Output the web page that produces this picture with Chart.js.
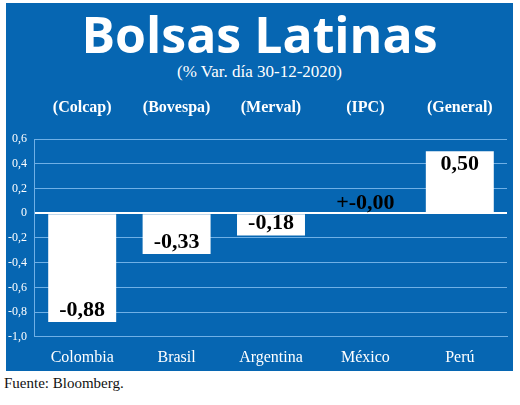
<!DOCTYPE html><html><head><meta charset="utf-8">
<script src="https://cdn.jsdelivr.net/npm/chart.js@4"></script>
<style>
body{margin:0;background:#fff;width:520px;height:405px;position:relative;overflow:hidden}
#panel{position:absolute;left:6px;top:3px;width:507px;height:368px;background:#0666b2}
#t{position:absolute;left:6px;width:507px;top:6px;text-align:center;color:#fff;font:bold 50px "Liberation Sans Narrow","Open Sans";line-height:56px}
#s{position:absolute;left:6px;width:507px;top:62px;text-align:center;color:#fff;font:17px "Liberation Sans Narrow";}
#f{position:absolute;left:4px;top:375px;color:#111;font:15px "Liberation Sans Narrow"}
#c{position:absolute;left:0;top:90px}
</style></head><body>
<div id="panel"></div><div id="t">Bolsas Latinas</div><div id="s">(% Var. día 30-12-2020)</div>
<div id="f">Fuente: Bloomberg.</div>
<div id="c" style="width:515px;height:280px"><canvas id="cv"></canvas></div>
<script>
const categories=["Colombia","Brasil","Argentina","México","Perú"];
const indices=["(Colcap)","(Bovespa)","(Merval)","(IPC)","(General)"];
const values=[-0.88,-0.33,-0.18,0.0,0.50];
const valueLabels=["-0,88","-0,33","-0,18","+-0,00","0,50"];
const ticks=[0.6,0.4,0.2,0,-0.2,-0.4,-0.6,-0.8,-1.0];
const lab={id:'lab',afterDatasetsDraw(ch){const c=ch.ctx,x=ch.scales.x,y=ch.scales.y;c.save();c.textAlign='center';c.textBaseline='middle';
categories.forEach((k,i)=>{const cx=x.getPixelForValue(i);
c.fillStyle='#fff';c.font='bold 16px "Liberation Serif"';c.fillText(indices[i],cx,18);
c.fillStyle='#000';c.font='bold 22px "Liberation Serif"';const v=values[i];let py;
if(v<0)py=y.getPixelForValue(v)-12;else if(v>0)py=y.getPixelForValue(v)+13;else py=y.getPixelForValue(0)-10;
c.fillText(valueLabels[i],cx,py);});c.restore();}};
new Chart(document.getElementById('cv'),{type:'bar',data:{labels:categories,datasets:[{data:values,backgroundColor:'#fff',barPercentage:0.72,categoryPercentage:1}]},
options:{responsive:true,maintainAspectRatio:false,animation:false,layout:{padding:{top:49,right:8,left:0,bottom:0}},
plugins:{legend:{display:false},tooltip:{enabled:false}},
scales:{x:{grid:{display:false},border:{color:'#6fb0e6'},ticks:{color:'#fff',font:{size:16,family:'Liberation Sans Narrow'}}},
y:{min:-1,max:0.6,afterBuildTicks:a=>{a.ticks=ticks.map(v=>({value:v}))},border:{color:'#6fb0e6'},
grid:{color:c=>c.tick&&c.tick.value===0?'#fff':'#6fb0e6',lineWidth:c=>c.tick&&c.tick.value===0?2:1,drawTicks:false},
ticks:{color:'#fff',padding:8,font:{size:12,family:'Liberation Sans Narrow'},callback:v=>v===0?'0':v.toFixed(1).replace('.',',')}}}}
,plugins:[lab]});
</script></body></html>
